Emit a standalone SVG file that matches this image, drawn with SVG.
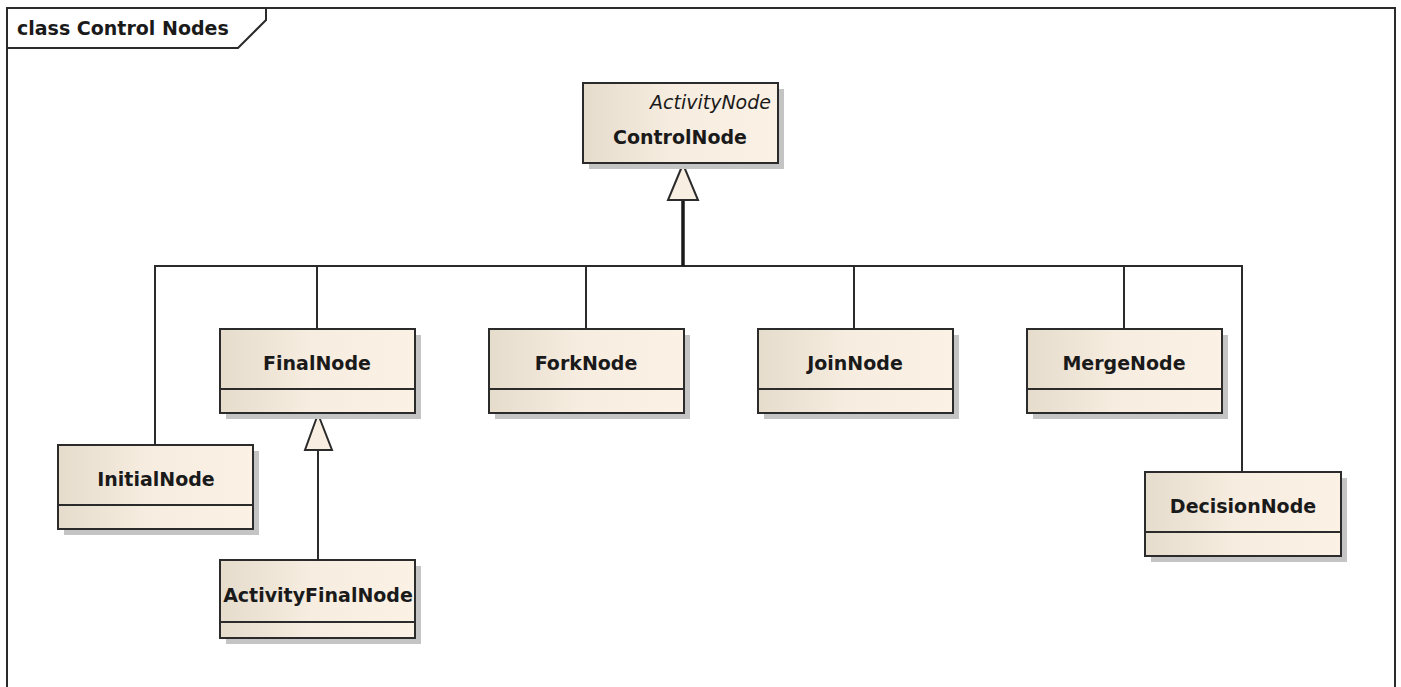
<svg xmlns="http://www.w3.org/2000/svg" width="1401" height="687" viewBox="0 0 1401 687">
<defs>
<linearGradient id="fill" x1="0" y1="0" x2="1" y2="0">
<stop offset="0" stop-color="#e6dccc"/>
<stop offset="0.45" stop-color="#f6ecdf"/>
<stop offset="1" stop-color="#fbf1e4"/>
</linearGradient>
<style>
.shadow{fill:#c4c4c4}
.box{fill:url(#fill);stroke:#2b2b2b;stroke-width:2}
.div{stroke:#2b2b2b;stroke-width:2}
.name{font-family:"DejaVu Sans",Verdana,sans-serif;font-weight:bold;font-size:19px;fill:#1a1a1a;text-anchor:middle}
.stereo{font-family:"DejaVu Sans",Verdana,sans-serif;font-style:italic;font-size:19px;fill:#1a1a1a;text-anchor:end}
.conn{fill:none;stroke:#2b2b2b;stroke-width:2}
.head{fill:#f8efe2;stroke:#2b2b2b;stroke-width:2;stroke-linejoin:miter}
</style>
</defs>
<rect x="0" y="0" width="1401" height="687" fill="#ffffff"/>
<g id="frame">
<rect x="7" y="8" width="1388" height="700" fill="none" stroke="#2b2b2b" stroke-width="2"/>
<polyline points="266,8 266,20 238,48 7,48" fill="none" stroke="#2b2b2b" stroke-width="2"/>
<text x="17" y="35" font-family="DejaVu Sans,Verdana,sans-serif" font-weight="bold" font-size="19" fill="#1a1a1a">class Control Nodes</text>
</g>
<g id="connectors">
<polyline class="conn" points="155,445 155,266 1242,266 1242,472"/>
<line class="conn" x1="317" y1="266" x2="317" y2="329"/>
<line class="conn" x1="586" y1="266" x2="586" y2="329"/>
<line class="conn" x1="854" y1="266" x2="854" y2="329"/>
<line class="conn" x1="1124" y1="266" x2="1124" y2="329"/>
<line x1="683" y1="200" x2="683" y2="266" stroke="#1a1a1a" stroke-width="3.5"/>
<polygon class="head" points="683,164 668,200 698,200"/>
<line class="conn" x1="318" y1="450" x2="318" y2="560"/>
<polygon class="head" points="318,414 305,450 332,450"/>
</g>
<g id="ControlNode">
<rect class="shadow" x="589" y="89" width="195" height="80"/>
<rect class="box" x="583" y="83" width="195" height="80"/>
<text class="stereo" x="771" y="109">ActivityNode</text>
<text class="name" x="680" y="144">ControlNode</text>
</g>
<g id="FinalNode">
<rect class="shadow" x="226" y="335" width="195" height="84"/>
<rect class="box" x="220" y="329" width="195" height="84"/>
<line class="div" x1="220" y1="389" x2="415" y2="389"/>
<text class="name" x="317" y="370">FinalNode</text>
</g>
<g id="ForkNode">
<rect class="shadow" x="495" y="335" width="195" height="84"/>
<rect class="box" x="489" y="329" width="195" height="84"/>
<line class="div" x1="489" y1="389" x2="684" y2="389"/>
<text class="name" x="586" y="370">ForkNode</text>
</g>
<g id="JoinNode">
<rect class="shadow" x="764" y="335" width="195" height="84"/>
<rect class="box" x="758" y="329" width="195" height="84"/>
<line class="div" x1="758" y1="389" x2="953" y2="389"/>
<text class="name" x="855" y="370">JoinNode</text>
</g>
<g id="MergeNode">
<rect class="shadow" x="1033" y="335" width="195" height="84"/>
<rect class="box" x="1027" y="329" width="195" height="84"/>
<line class="div" x1="1027" y1="389" x2="1222" y2="389"/>
<text class="name" x="1124" y="370">MergeNode</text>
</g>
<g id="InitialNode">
<rect class="shadow" x="64" y="451" width="195" height="84"/>
<rect class="box" x="58" y="445" width="195" height="84"/>
<line class="div" x1="58" y1="505" x2="253" y2="505"/>
<text class="name" x="156" y="486">InitialNode</text>
</g>
<g id="ActivityFinalNode">
<rect class="shadow" x="226" y="566" width="195" height="78"/>
<rect class="box" x="220" y="560" width="195" height="78"/>
<line class="div" x1="220" y1="622" x2="415" y2="622"/>
<text class="name" x="318" y="602">ActivityFinalNode</text>
</g>
<g id="DecisionNode">
<rect class="shadow" x="1151" y="478" width="196" height="84"/>
<rect class="box" x="1145" y="472" width="196" height="84"/>
<line class="div" x1="1145" y1="532" x2="1341" y2="532"/>
<text class="name" x="1243" y="513">DecisionNode</text>
</g>
</svg>
